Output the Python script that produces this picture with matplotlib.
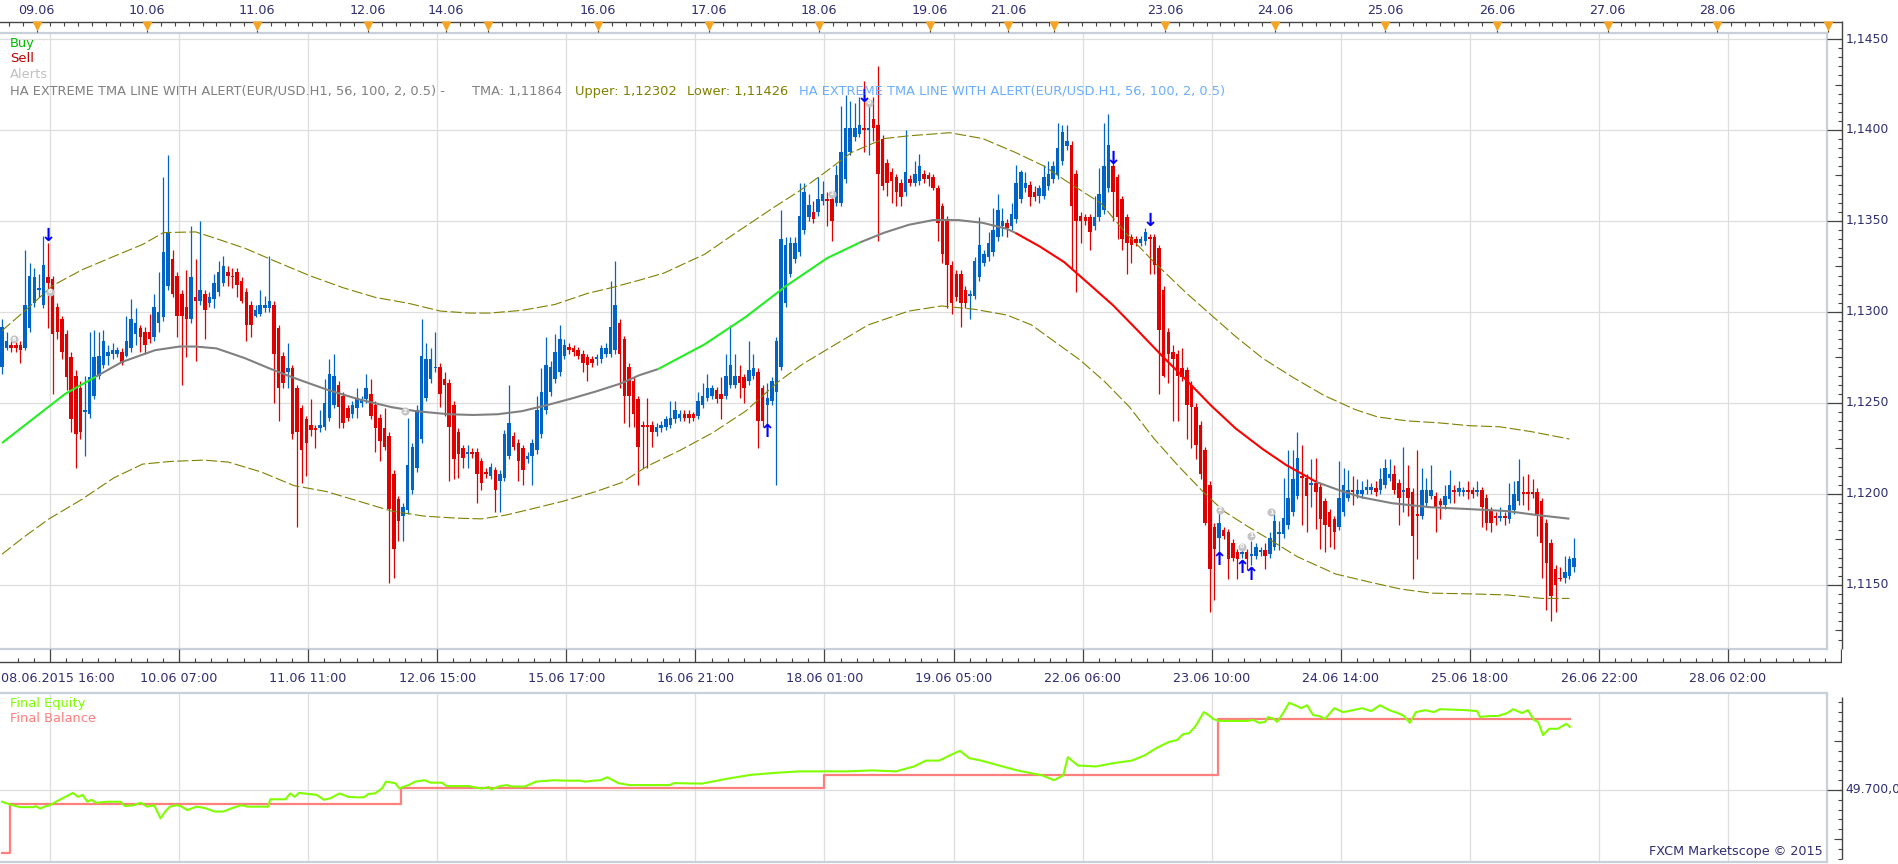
import matplotlib
matplotlib.use("Agg")
import matplotlib.pyplot as plt
import numpy as np

plt.rcParams['font.family'] = ['DejaVu Sans']

# EUR/USD H1 Heikin-Ashi candles, values in pips above 1.1000
opens = [270, 280, 282, 282, 282, 280, 291, 305, 312, 304,
         319, 318, 303, 296, 288, 275, 265, 258, 245, 244,
         254, 265, 271, 276, 277, 277, 278, 276, 280, 288,
         291, 289, 289, 286, 294, 297, 314, 329, 320, 310,
         303, 296, 308, 306, 310, 305, 307, 311, 316, 322,
         320, 322, 317, 311, 304, 298, 299, 302, 302, 304,
         291, 276, 267, 269, 258, 247, 241, 238, 236, 236,
         237, 242, 249, 260, 254, 247, 244, 247, 250, 252,
         255, 249, 242, 236, 232, 211, 197, 188, 191, 202,
         214, 230, 253, 263, 269, 270, 263, 261, 249, 234,
         225, 222, 223, 223, 218, 212, 210, 213, 207, 209,
         221, 232, 228, 225, 219, 221, 224, 233, 246, 256,
         263, 267, 276, 281, 280, 279, 277, 275, 274, 274,
         274, 277, 277, 279, 294, 285, 270, 262, 252, 238,
         238, 238, 234, 236, 237, 238, 241, 242, 244, 244,
         244, 243, 249, 253, 254, 257, 255, 254, 260, 260,
         265, 264, 262, 265, 267, 258, 249, 251, 256, 270,
         305, 321, 329, 333, 345, 352, 355, 355, 361, 362,
         362, 360, 360, 373, 388, 396, 398, 401, 400, 406,
         403, 395, 382, 377, 374, 371, 366, 373, 371, 372,
         376, 375, 374, 368, 358, 351, 326, 321, 321, 312,
         309, 309, 319, 327, 330, 333, 341, 347, 349, 347,
         351, 362, 368, 370, 366, 364, 364, 369, 373, 375,
         383, 391, 392, 376, 353, 352, 352, 347, 352, 356,
         368, 380, 374, 362, 352, 341, 340, 338, 339, 341,
         341, 335, 312, 289, 278, 277, 269, 268, 260, 248,
         238, 224, 205, 182, 176, 180, 179, 173, 168, 167,
         168, 166, 166, 168, 169, 167, 171, 178, 178, 183,
         190, 199, 210, 209, 205, 206, 204, 196, 190, 186,
         182, 190, 198, 202, 200, 200, 202, 202, 203, 202,
         205, 209, 211, 206, 201, 203, 201, 189, 188, 195,
         199, 199, 196, 194, 197, 202, 201, 201, 202, 202,
         201, 202, 198, 191, 188, 187, 188, 186, 191, 196,
         201, 201, 201, 201, 196, 184, 173, 159, 154, 154,
         155, 160]
highs = [296, 289, 284, 285, 284, 334, 327, 324, 321, 342,
         338, 320, 305, 298, 290, 278, 268, 262, 265, 289,
         290, 289, 290, 282, 283, 281, 280, 298, 307, 302,
         293, 292, 299, 310, 322, 374, 386, 334, 322, 312,
         323, 347, 329, 350, 312, 311, 321, 328, 331, 325,
         324, 324, 319, 313, 306, 304, 312, 309, 331, 306,
         293, 278, 283, 271, 260, 249, 243, 252, 238, 246,
         263, 274, 277, 262, 256, 249, 251, 258, 254, 266,
         263, 251, 244, 247, 234, 213, 199, 195, 242, 228,
         249, 296, 283, 280, 289, 272, 267, 263, 251, 236,
         227, 227, 225, 225, 220, 214, 217, 215, 213, 235,
         260, 234, 230, 227, 223, 230, 254, 269, 286, 273,
         288, 293, 285, 283, 282, 281, 279, 277, 276, 277,
         282, 283, 317, 328, 296, 287, 272, 264, 254, 240,
         253, 240, 239, 240, 243, 251, 251, 246, 246, 246,
         245, 256, 261, 266, 260, 259, 264, 277, 293, 277,
         271, 266, 284, 277, 269, 260, 261, 264, 286, 356,
         341, 341, 341, 371, 371, 365, 361, 374, 372, 366,
         364, 381, 413, 419, 416, 415, 418, 427, 415, 418,
         435, 397, 384, 379, 376, 373, 400, 375, 383, 387,
         378, 377, 376, 370, 360, 353, 328, 323, 323, 314,
         312, 330, 352, 334, 344, 357, 365, 357, 351, 360,
         381, 378, 377, 372, 369, 370, 381, 383, 383, 404,
         403, 403, 394, 378, 355, 354, 354, 364, 379, 404,
         409, 382, 376, 364, 354, 343, 342, 342, 346, 343,
         343, 337, 314, 291, 282, 279, 280, 270, 262, 250,
         240, 226, 207, 184, 193, 182, 181, 175, 170, 170,
         170, 174, 173, 171, 173, 179, 191, 185, 209, 224,
         224, 234, 227, 211, 219, 220, 206, 198, 192, 188,
         218, 214, 213, 210, 208, 207, 208, 206, 207, 214,
         219, 219, 216, 208, 226, 216, 203, 224, 214, 209,
         216, 201, 198, 205, 213, 205, 207, 204, 207, 204,
         207, 204, 200, 193, 190, 193, 190, 206, 207, 219,
         210, 211, 208, 203, 198, 186, 175, 161, 160, 166,
         166, 176]
lows = [266, 279, 278, 278, 272, 279, 289, 303, 308, 302,
        291, 255, 285, 274, 257, 234, 214, 230, 221, 242,
        252, 263, 269, 271, 274, 275, 271, 275, 278, 282,
        278, 277, 283, 284, 289, 295, 312, 308, 286, 260,
        275, 294, 273, 304, 285, 303, 302, 309, 314, 314,
        313, 308, 305, 284, 286, 297, 298, 300, 300, 250,
        240, 258, 258, 230, 182, 206, 210, 232, 225, 234,
        235, 240, 247, 236, 236, 240, 242, 242, 248, 250,
        241, 223, 218, 224, 151, 154, 174, 174, 189, 200,
        212, 228, 251, 261, 267, 248, 243, 207, 208, 209,
        214, 214, 220, 195, 202, 209, 208, 190, 190, 207,
        219, 224, 207, 205, 217, 205, 222, 231, 244, 254,
        261, 265, 274, 277, 276, 274, 267, 262, 270, 271,
        272, 275, 275, 277, 258, 239, 237, 237, 205, 214,
        214, 226, 232, 234, 235, 236, 239, 240, 240, 239,
        240, 241, 247, 251, 252, 250, 241, 252, 258, 258,
        253, 250, 260, 263, 225, 237, 236, 249, 205, 268,
        303, 319, 327, 331, 343, 350, 349, 353, 359, 347,
        339, 358, 358, 371, 386, 394, 396, 388, 386, 394,
        339, 367, 364, 360, 358, 358, 364, 369, 369, 370,
        371, 369, 367, 339, 327, 302, 299, 306, 292, 302,
        296, 307, 317, 325, 328, 331, 339, 342, 341, 345,
        349, 360, 366, 358, 361, 360, 362, 367, 371, 373,
        381, 389, 323, 311, 338, 348, 334, 345, 350, 354,
        366, 350, 340, 334, 321, 327, 336, 336, 337, 321,
        321, 255, 264, 261, 240, 240, 262, 230, 225, 219,
        208, 183, 135, 142, 168, 175, 153, 163, 153, 165,
        158, 161, 164, 166, 159, 165, 169, 169, 176, 181,
        188, 197, 183, 179, 193, 181, 170, 168, 171, 170,
        180, 188, 196, 194, 198, 198, 200, 200, 199, 200,
        203, 207, 200, 183, 190, 188, 153, 164, 186, 193,
        197, 179, 186, 192, 195, 195, 199, 199, 197, 198,
        199, 182, 180, 179, 183, 185, 183, 184, 189, 194,
        194, 191, 198, 177, 154, 136, 130, 135, 152, 151,
        153, 157]
closes = [292, 284, 280, 280, 279, 304, 320, 319, 313, 326,
          316, 288, 289, 278, 264, 241, 233, 234, 246, 264,
          275, 276, 284, 278, 279, 279, 272, 284, 296, 294,
          286, 282, 285, 303, 300, 333, 344, 310, 298, 298,
          296, 319, 306, 312, 301, 308, 316, 322, 325, 320,
          319, 315, 306, 293, 293, 301, 304, 304, 306, 277,
          258, 261, 269, 233, 234, 224, 228, 235, 235, 238,
          250, 266, 265, 248, 239, 242, 249, 253, 252, 258,
          243, 236, 229, 226, 192, 170, 185, 193, 216, 226,
          246, 276, 274, 274, 270, 255, 260, 237, 219, 222,
          220, 223, 222, 211, 206, 211, 215, 202, 211, 233,
          239, 226, 218, 213, 221, 228, 246, 256, 271, 270,
          278, 285, 282, 279, 278, 276, 272, 271, 272, 275,
          280, 280, 292, 304, 277, 254, 254, 244, 226, 237,
          237, 234, 237, 238, 241, 242, 246, 244, 242, 242,
          242, 251, 254, 258, 258, 252, 252, 265, 271, 265,
          261, 258, 268, 269, 240, 240, 253, 262, 284, 340,
          337, 338, 338, 353, 366, 359, 351, 362, 365, 361,
          350, 375, 388, 401, 401, 401, 403, 400, 401, 401,
          376, 369, 371, 372, 366, 363, 377, 371, 376, 380,
          373, 373, 368, 349, 332, 326, 305, 308, 305, 305,
          310, 328, 337, 332, 338, 345, 356, 350, 346, 354,
          371, 377, 371, 363, 363, 368, 374, 376, 380, 390,
          399, 394, 358, 350, 350, 350, 344, 352, 365, 380,
          392, 366, 352, 340, 338, 337, 338, 340, 344, 340,
          326, 290, 265, 277, 274, 265, 264, 249, 248, 227,
          211, 184, 159, 170, 184, 177, 164, 165, 164, 168,
          164, 167, 171, 169, 166, 176, 185, 179, 187, 198,
          208, 220, 209, 199, 206, 201, 186, 183, 182, 179,
          198, 205, 202, 201, 202, 202, 204, 204, 201, 208,
          214, 211, 202, 198, 202, 198, 177, 188, 202, 202,
          202, 193, 194, 199, 205, 201, 203, 202, 201, 200,
          202, 193, 184, 184, 187, 188, 187, 194, 200, 207,
          200, 200, 200, 189, 173, 162, 144, 150, 153, 157,
          164, 165]

# TMA centre line (bar index, pips) and colour sections
tma_x = [0, 13.7, 20.4, 26, 33.2, 38.5, 42, 46.5, 52.7, 58,
         63.3, 70.4, 77.4, 84.5, 89.8, 96.9, 102.2, 107.5, 112.8, 118.2,
         123.5, 128.8, 134.1, 138.3, 142.3, 152.4, 161.3, 170.2, 179, 186.1,
         191.4, 196.7, 202, 207.4, 212.7, 218, 219.8, 225.1, 230.4, 235.7,
         241, 246.4, 251.7, 257, 262.3, 267.6, 273.5, 278.5, 285.1, 290,
         295, 301.6, 309.8, 318.1, 326.4, 333, 340]
tma_v = [228, 255, 264.5, 272.5, 279, 281, 281, 280, 274.6, 269,
         263.8, 257.4, 252, 247.7, 245.5, 243.8, 243.4, 243.8, 245.5, 248.8,
         252.4, 256.3, 260.6, 265.3, 268.6, 282.2, 297.2, 314.5, 329.6, 338.2,
         343.6, 347.9, 350.5, 350.5, 349, 345.7, 343.5, 336, 327.4, 315.6,
         303.7, 289.7, 275.7, 262.3, 248.5, 236, 224.6, 216, 206.6, 202.1,
         198.1, 194.9, 192.7, 191.7, 190.6, 188.4, 186.4]
tma_sections = [(0, 20.4, '#22ee22'), (20.4, 142.3, '#808080'),
                (142.3, 186.1, '#22ee22'), (186.1, 219.8, '#808080'),
                (219.8, 285.1, '#ff0000'), (285.1, 340, '#808080')]

upper_x = [0, 4.9, 11, 17.3, 24.3, 30.5, 35, 42, 46.5, 52.7,
           59.7, 66.8, 73.9, 81, 88.1, 95.1, 101.3, 105.8, 112.8, 119.9,
           127, 132.3, 138.3, 143.6, 152.4, 158.6, 167.5, 172.8, 178.1, 184.3,
           191.4, 196.7, 205.6, 212.7, 219.8, 226, 230.4, 238.4, 243.7, 249.9,
           257, 262.3, 267.6, 273.5, 280.2, 286.8, 293.4, 298.4, 305, 311.6,
           318.3, 324.9, 331.6, 340]
upper_v = [289.7, 300.5, 314.5, 323.1, 330.6, 337.1, 343.6, 344, 340.3, 335,
           327.4, 319.9, 313.4, 308, 304.8, 300.5, 299.4, 299.4, 300.9, 304.1,
           310.2, 313.4, 317.5, 321.4, 331.7, 342.5, 357.6, 366.2, 375.9, 387.7,
           395.3, 396.8, 398.5, 395.3, 387.7, 380.2, 372.7, 359.7, 343.6, 327.4,
           310.2, 298.3, 286.5, 274.5, 263.8, 254.1, 246.5, 242.3, 240.1, 239.1,
           237.5, 236.9, 234.3, 230.2]
lower_x = [0, 4.9, 10.2, 17.3, 24.3, 30.5, 36.7, 43.8, 49.1, 56.2,
           63.3, 70.4, 77.4, 84.5, 91.6, 98.7, 104, 109.3, 114.6, 121.7,
           128.8, 134.4, 140, 147.1, 154.2, 161.3, 168.4, 173.7, 180.8, 187.9,
           196.7, 203.8, 210.9, 218, 223.3, 228.6, 233.9, 239.2, 244.6, 249.9,
           255.2, 260.5, 265, 270.3, 273.5, 281, 289.3, 297.5, 303.3, 310,
           318.3, 326.6, 334, 340]
lower_v = [166.9, 176.6, 186.3, 197, 208.9, 216.4, 217.9, 218.6, 217.5, 212.1,
           204.6, 201.3, 196, 190.6, 187.8, 186.7, 186.3, 188.4, 191.6, 196,
           201.3, 206.2, 215.3, 224, 233.7, 245.5, 261.7, 271.4, 282.2, 292.9,
           300.5, 303.3, 301.5, 298.3, 292.9, 283.2, 273.5, 261.7, 247.7, 230.4,
           215.3, 201.3, 190.6, 182, 177.2, 165.5, 156, 151.1, 147.8, 145.5,
           145.1, 144.5, 142.6, 142.6]

# signal arrows and alert markers (bar index, pips)
sell_x = [10, 187, 241, 249]
sell_v = [342, 418, 384, 350]
buy_x = [166, 264, 269, 271]
buy_v = [234, 163.8, 159.2, 155.5]
alert_x = [2.5, 10.4, 87.4, 180, 188, 264.2, 269, 271, 275.3]
alert_v = [285, 311, 245.5, 365, 415, 191.4, 171, 177, 190]
alert_n = ['8', '6', '2', '2', '0', '2', '0', '1', '1']

# equity panel
eq_x = [0, 1.5, 3.9, 6.8, 7.3, 8.3, 9.2, 10.4, 11.7, 13.1,
        15.4, 16.5, 17.5, 18.5, 19.4, 20.4, 22.8, 25.7, 26.7, 28.6,
        30.1, 31.5, 33, 34.4, 35.4, 36.4, 37.8, 38.8, 40.2, 42.2,
        44.1, 46.1, 48, 49.9, 51.9, 53.3, 57.7, 58.2, 61.5, 62.5,
        63.5, 64.4, 68.3, 69.8, 71.2, 73.2, 75.1, 77, 78.5, 79.5,
        80.9, 82.4, 83.3, 85.3, 86.2, 87.2, 88.2, 89.6, 91.6, 93,
        95.4, 96.4, 101.3, 102.2, 104.1, 105.6, 106.1, 108, 109.5, 110.5,
        113.4, 115.8, 119.7, 122.6, 125.5, 126.4, 128.4, 129.8, 131.3, 133.7,
        136.1, 144.8, 145.8, 151.8, 157.3, 162.5, 167.7, 172.9, 178.1, 183.5,
        188.7, 193.9, 197.8, 200.4, 203.3, 205.9, 207.8, 209.8, 212.4, 216.3,
        220.2, 225.6, 228.2, 230.2, 231.2, 233.4, 237.3, 241.2, 245.1, 247.9,
        250.5, 253.1, 254.9, 256.2, 257.5, 258.8, 260.7, 262, 262.7, 264,
        270.1, 271.4, 272.7, 274, 274.6, 275.9, 276.6, 277.9, 279.2, 280.5,
        281.8, 283.1, 284.4, 285.7, 287, 289, 290.9, 293.1, 295, 297,
        298.9, 300.9, 302.8, 304.1, 305.4, 306.7, 308.7, 310.6, 311.9, 317.4,
        320, 320.6, 322.6, 324.5, 326.5, 327.8, 329.7, 331, 332.3, 333.2,
        334.3, 335.6, 337.5, 339.3, 340.1]
eq_v = [49676, 49671, 49665, 49665, 49667, 49662, 49666, 49669, 49676, 49683,
        49694, 49686, 49690, 49676, 49680, 49674, 49676, 49676, 49667, 49669,
        49674, 49666, 49669, 49642, 49656, 49666, 49669, 49667, 49659, 49666,
        49663, 49656, 49656, 49663, 49669, 49666, 49666, 49681, 49681, 49693,
        49686, 49694, 49690, 49680, 49683, 49693, 49686, 49685, 49685, 49692,
        49693, 49703, 49717, 49714, 49703, 49707, 49710, 49717, 49720, 49715,
        49715, 49708, 49708, 49706, 49703, 49706, 49701, 49708, 49710, 49707,
        49707, 49717, 49720, 49719, 49719, 49717, 49719, 49720, 49726, 49714,
        49710, 49710, 49714, 49713, 49723, 49731, 49735, 49738, 49738, 49738,
        49740, 49738, 49748, 49760, 49760, 49772, 49780, 49765, 49760, 49750,
        49740, 49730, 49720, 49730, 49767, 49750, 49748, 49755, 49760, 49771,
        49786, 49798, 49802, 49814, 49816, 49829, 49859, 49851, 49845, 49841,
        49841, 49843, 49837, 49839, 49849, 49845, 49839, 49857, 49878, 49873,
        49867, 49873, 49853, 49851, 49845, 49867, 49859, 49863, 49867, 49861,
        49873, 49863, 49857, 49851, 49837, 49859, 49863, 49859, 49865, 49863,
        49861, 49849, 49851, 49851, 49857, 49865, 49857, 49863, 49843, 49839,
        49812, 49825, 49825, 49835, 49829]
bal_x = [0, 1.7, 86.5, 178.3, 263.8, 340.2]
bal_v = [49571, 49671, 49704, 49731, 49845, 49845]

# axis labels
day_pos = [7.5, 31.5, 55.3, 79.4, 96.3, 105.4, 129.3, 153.4, 177.2, 201.3,
           218.2, 228.3, 252.3, 276.1, 300.0, 324.3, 348.3, 372.1, 396.0]
day_labels = ['09.06', '10.06', '11.06', '12.06', '14.06', '', '16.06', '17.06',
              '18.06', '19.06', '21.06', '', '23.06', '24.06', '25.06', '26.06',
              '27.06', '28.06', '']
time_labels = ['08.06.2015 16:00', '10.06 07:00', '11.06 11:00', '12.06 15:00',
               '15.06 17:00', '16.06 21:00', '18.06 01:00', '19.06 05:00',
               '22.06 06:00', '23.06 10:00', '24.06 14:00', '25.06 18:00',
               '26.06 22:00', '28.06 02:00']
price_ticks = [1.115, 1.120, 1.125, 1.130, 1.135, 1.140, 1.145]
price_labels = ['1,1150', '1,1200', '1,1250', '1,1300', '1,1350', '1,1400', '1,1450']

BLUE = '#0063c6'
RED = '#e00000'
NAVY = '#2d2d72'
GRID = '#dedede'
FRAME = '#c8d0da'

W, H = 1899, 864
BAR = 4.61   # pixels per hourly bar
X0 = 2.0     # pixel of bar 0
GRID0 = 10.41  # first time grid line, in bars; one line every 28 bars


def box(x0, y0, x1, y1):
    return [x0 / W, 1 - y1 / H, (x1 - x0) / W, (y1 - y0) / H]


def bars_between(px0, px1):
    return ((px0 - X0) / BAR, (px1 - X0) / BAR)


def price(v):
    return 1.1 + np.asarray(v, dtype=float) / 1e4


fig = plt.figure(figsize=(W / 100, H / 100), dpi=100)
fig.patch.set_facecolor('white')
grid_pos = GRID0 + 28 * np.arange(len(time_labels))

# ---------------- main price panel ----------------
ax = fig.add_axes(box(0, 33, 1827, 649))
ax.set_xlim(*bars_between(0, 1827))
ax.set_ylim(price(114.8), price(453.3))
ax.set_xticks([])
ax.set_yticks([])
ax.spines['left'].set_visible(False)
for s in ['top', 'right', 'bottom']:
    ax.spines[s].set_color(FRAME)
    ax.spines[s].set_linewidth(1.6)
for g in grid_pos:
    ax.axvline(g, color=GRID, lw=0.9, zorder=0)
for p in price_ticks:
    ax.axhline(p, color=GRID, lw=0.9, zorder=0)

o, h, l, c = price(opens), price(highs), price(lows), price(closes)
x = np.arange(len(closes))
col = np.where(c > o, BLUE, RED)
ax.vlines(x, l, h, colors=col, lw=0.9, zorder=3)
ax.bar(x, np.maximum(np.abs(c - o), 0.6e-4), bottom=np.minimum(o, c), width=0.76,
       color=col, linewidth=0, zorder=4)

ax.plot(upper_x, price(upper_v), color='#808000', lw=0.8, ls=(0, (10, 3)), zorder=5)
ax.plot(lower_x, price(lower_v), color='#808000', lw=0.8, ls=(0, (10, 3)), zorder=5)
tx, tv = np.array(tma_x), np.array(tma_v)
for a, b, colr in tma_sections:
    m = (tx >= a) & (tx <= b)
    ax.plot(tx[m], price(tv[m]), color=colr, lw=1.5, zorder=5, solid_capstyle='butt',
            solid_joinstyle='round')

for xi, vi in zip(sell_x, sell_v):
    ax.text(xi, price(vi), '↓', ha='center', va='center', color='#0000ff', fontsize=13,
            fontweight='bold', zorder=7)
for xi, vi in zip(buy_x, buy_v):
    ax.text(xi, price(vi), '↑', ha='center', va='center', color='#0000ff', fontsize=13,
            fontweight='bold', zorder=7)
ax.scatter(alert_x, price(alert_v), s=34, color='#c4c4c4', zorder=6, linewidths=0)
for xi, vi, n in zip(alert_x, alert_v, alert_n):
    ax.text(xi, price(vi), n, ha='center', va='center', color='white', fontsize=4.5,
            fontweight='bold', zorder=7)


# legend lines at top-left
def ftext(px, py, s, color, size=9.4):
    fig.text(px / W, 1 - py / H, s, color=color, fontsize=size, ha='left', va='center')


ftext(10, 43, 'Buy', '#00bb00')
ftext(10, 59, 'Sell', '#c00000')
ftext(10, 75, 'Alerts', '#c0c0c0')
ftext(10, 91, 'HA EXTREME TMA LINE WITH ALERT(EUR/USD.H1, 56, 100, 2, 0.5) -', '#808080')
ftext(472, 91, 'TMA: 1,11864', '#808080')
ftext(575, 91, 'Upper: 1,12302', '#808000')
ftext(687, 91, 'Lower: 1,11426', '#808000')
ftext(799, 91, 'HA EXTREME TMA LINE WITH ALERT(EUR/USD.H1, 56, 100, 2, 0.5)', '#6aaeff')

# ---------------- top date strip ----------------
axt = fig.add_axes(box(0, 0, 1842, 33))
axt.set_xlim(*bars_between(0, 1842))
axt.set_ylim(33, 0)
axt.axis('off')
axt.axhline(22, color='#444444', lw=1.0)
minor_top = []
for d0, d1 in zip(day_pos[:-1], day_pos[1:]):
    minor_top += [d0 + 3 * k for k in range(1, 8) if d0 + 3 * k < d1 - 1]
minor_top += [day_pos[0] - 3, day_pos[0] - 6]
axt.vlines(minor_top, 22, 26, color='#444444', lw=0.8)
axt.vlines(day_pos, 22, 32, color='#333333', lw=0.8)
axt.scatter(day_pos, [26] * len(day_pos), marker='v', s=52, color='#f5a320', zorder=3,
            linewidths=0)
for d, lab in zip(day_pos, day_labels):
    axt.text(d, 10, lab, ha='center', va='center', fontsize=9.2, color=NAVY)

# ---------------- bottom time strip ----------------
axb = fig.add_axes(box(0, 649, 1842, 693))
axb.set_xlim(*bars_between(0, 1842))
axb.set_ylim(693, 649)
axb.axis('off')
axb.axhline(662, color='#444444', lw=1.0)
minor_bot = [m for m in np.arange(GRID0 - 7, 400, 3.5) if abs((m - GRID0) % 28) > 0.1]
axb.vlines(minor_bot, 658, 662, color='#444444', lw=0.8)
axb.vlines(grid_pos, 649, 662, color='#444444', lw=0.9)
axb.vlines([(1841 - X0) / BAR], 649, 662, color='#444444', lw=0.9)
for k, (g, lab) in enumerate(zip(grid_pos, time_labels)):
    if k == 0:
        axb.text((1 - X0) / BAR, 679, lab, ha='left', va='center', fontsize=9.2, color=NAVY)
    else:
        axb.text(g, 679, lab, ha='center', va='center', fontsize=9.2, color=NAVY)

# ---------------- right price scale ----------------
axr = fig.add_axes(box(1827, 33, 1899, 649))
axr.set_xlim(1827, 1899)
axr.set_ylim(ax.get_ylim())
axr.axis('off')
axr.vlines(1842, ax.get_ylim()[0], price(460), color='#444444', lw=1.0, clip_on=False)
fine = np.arange(1.1115, 1.1455, 0.0005)
axr.hlines(fine, 1838, 1842, color='#444444', lw=0.8)
axr.hlines(np.arange(1.1125, 1.1455, 0.005), 1835, 1842, color='#444444', lw=0.8)
axr.hlines(price_ticks, 1827, 1842, color='#444444', lw=0.9)
for p, lab in zip(price_ticks, price_labels):
    axr.text(1846, p, lab, ha='left', va='center', fontsize=8.9, color=NAVY)

# ---------------- equity panel ----------------
ax2 = fig.add_axes(box(0, 693, 1827, 862))
ax2.set_xlim(*bars_between(0, 1827))
ax2.set_ylim(49553, 49898)
ax2.set_xticks([])
ax2.set_yticks([])
ax2.spines['left'].set_visible(False)
for s in ['top', 'right', 'bottom']:
    ax2.spines[s].set_color(FRAME)
    ax2.spines[s].set_linewidth(1.6)
for g in grid_pos:
    ax2.axvline(g, color=GRID, lw=0.9, zorder=0)
ax2.axhline(49700, color=GRID, lw=0.9, zorder=0)
ax2.step(bal_x, bal_v, where='post', color='#ff7f7f', lw=1.6, zorder=3)
ax2.plot(eq_x, eq_v, color='#7fff00', lw=1.5, zorder=4)
ftext(10, 703, 'Final Equity', '#7fff00')
ftext(10, 719, 'Final Balance', '#ff7f7f')
fig.text(1823 / W, 1 - 852 / H, 'FXCM Marketscope © 2015', ha='right', va='center',
         fontsize=9.2, color=NAVY)

ax2r = fig.add_axes(box(1827, 693, 1899, 862))
ax2r.set_xlim(1827, 1899)
ax2r.set_ylim(ax2.get_ylim())
ax2r.axis('off')
ax2r.vlines(1842, 49560, 49890, color='#444444', lw=1.0)
ax2r.hlines(np.arange(49560, 49891, 20), 1838, 1842, color='#444444', lw=0.8)
ax2r.hlines([49600, 49800], 1834, 1842, color='#444444', lw=0.8)
ax2r.hlines([49700], 1827, 1842, color='#444444', lw=0.9)
ax2r.text(1845, 49700, '49.700,0', ha='left', va='center', fontsize=8.9, color=NAVY)

fig.savefig('out.png', dpi=100, facecolor='white')
